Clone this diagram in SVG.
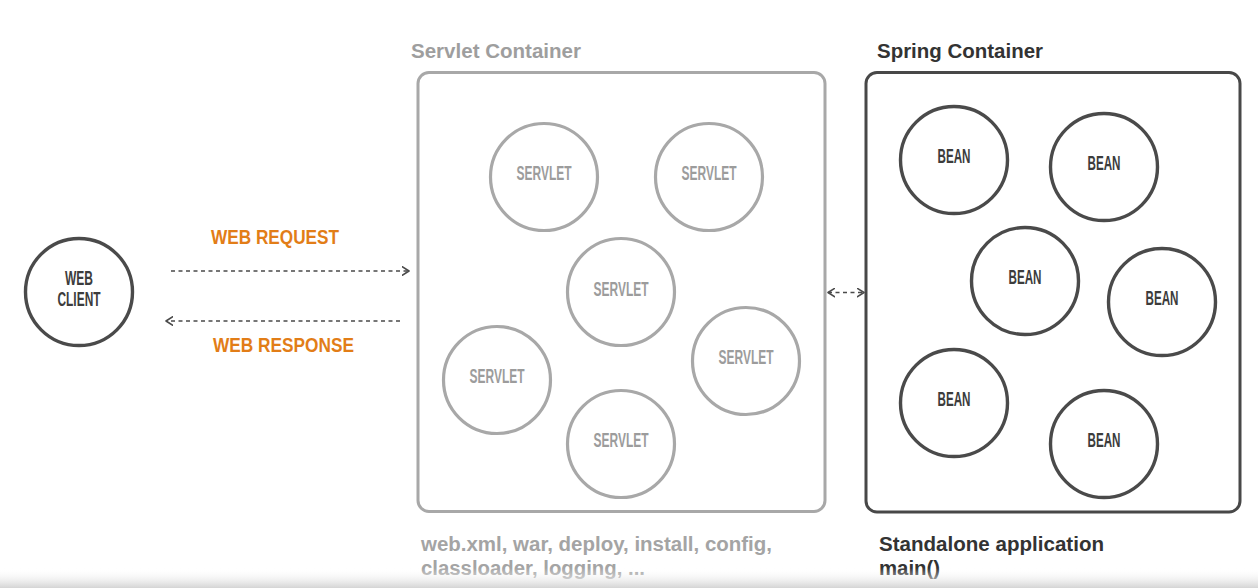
<svg xmlns="http://www.w3.org/2000/svg" width="1258" height="588" viewBox="0 0 1258 588">
<style>
  .bg { fill: #ffffff; }
  .box-light { fill: none; stroke: #a8a8a8; stroke-width: 3; }
  .box-dark { fill: none; stroke: #484848; stroke-width: 3; }
  .c-light { fill: #ffffff; stroke: #a8a8a8; stroke-width: 3.2; }
  .c-dark { fill: #ffffff; stroke: #4a4a4a; stroke-width: 3.4; }
  .t-light { font-family: "Liberation Sans", Arial, sans-serif; font-weight: bold; font-size: 21px; fill: #9c9c9c; text-anchor: middle; }
  .t-dark { font-family: "Liberation Sans", Arial, sans-serif; font-weight: bold; font-size: 21px; fill: #3c3c3c; text-anchor: middle; }
  .t-orange { font-family: "Liberation Sans", Arial, sans-serif; font-weight: bold; font-size: 20.5px; fill: #e27d17; }
  .title-light { font-family: "Liberation Sans", Arial, sans-serif; font-weight: bold; font-size: 20.5px; fill: #9e9e9e; }
  .title-dark { font-family: "Liberation Sans", Arial, sans-serif; font-weight: bold; font-size: 20.5px; fill: #333333; }
  .note-light { font-family: "Liberation Sans", Arial, sans-serif; font-weight: bold; font-size: 20px; fill: #a4a4a4; }
  .note-dark { font-family: "Liberation Sans", Arial, sans-serif; font-weight: bold; font-size: 20px; fill: #333333; }
  .conn { fill: none; stroke: #4a4a4a; stroke-width: 1.6; stroke-dasharray: 4 3.5; }
</style>
<defs>
  <marker id="chev" viewBox="0 0 8 10" refX="7.4" refY="5" markerWidth="8" markerHeight="10" markerUnits="userSpaceOnUse" orient="auto-start-reverse">
    <path d="M0.6,0.8 L7.4,5 L0.6,9.2" fill="none" stroke="#4a4a4a" stroke-width="1.6" stroke-linecap="round" stroke-linejoin="round"/>
  </marker>
  <linearGradient id="shade" x1="0" y1="0" x2="0" y2="1">
    <stop offset="0" stop-color="#ffffff" stop-opacity="0"/>
    <stop offset="1" stop-color="#d4d4d4"/>
  </linearGradient>
</defs>
<rect class="bg" x="0" y="0" width="1258" height="588"/>

<g id="web-client">
  <circle class="c-dark" cx="79" cy="292" r="53.5"/>
  <text class="t-dark" x="79" y="285" textLength="28" lengthAdjust="spacingAndGlyphs">WEB</text>
  <text class="t-dark" x="79" y="306" textLength="43" lengthAdjust="spacingAndGlyphs">CLIENT</text>
</g>

<g id="servlet-container">
  <text class="title-light" x="411" y="58" textLength="170" lengthAdjust="spacingAndGlyphs">Servlet Container</text>
  <rect class="box-light" x="418" y="72.5" width="407" height="439" rx="11"/>
  <text class="note-light" x="421" y="551" textLength="351" lengthAdjust="spacingAndGlyphs">web.xml, war, deploy, install, config,</text>
  <text class="note-light" x="421" y="575" textLength="224" lengthAdjust="spacingAndGlyphs">classloader, logging, ...</text>
</g>

<g id="servlet-1">
  <circle class="c-light" cx="544" cy="177" r="53.5"/>
  <text class="t-light" x="544" y="180" textLength="55" lengthAdjust="spacingAndGlyphs">SERVLET</text>
</g>
<g id="servlet-2">
  <circle class="c-light" cx="709" cy="177" r="53.5"/>
  <text class="t-light" x="709" y="180" textLength="55" lengthAdjust="spacingAndGlyphs">SERVLET</text>
</g>
<g id="servlet-3">
  <circle class="c-light" cx="621" cy="292" r="53.5"/>
  <text class="t-light" x="621" y="295.5" textLength="55" lengthAdjust="spacingAndGlyphs">SERVLET</text>
</g>
<g id="servlet-4">
  <circle class="c-light" cx="746" cy="361" r="53.5"/>
  <text class="t-light" x="746" y="364" textLength="55" lengthAdjust="spacingAndGlyphs">SERVLET</text>
</g>
<g id="servlet-5">
  <circle class="c-light" cx="497" cy="380" r="53.5"/>
  <text class="t-light" x="497" y="382.5" textLength="55" lengthAdjust="spacingAndGlyphs">SERVLET</text>
</g>
<g id="servlet-6">
  <circle class="c-light" cx="621" cy="444" r="53.5"/>
  <text class="t-light" x="621" y="447" textLength="55" lengthAdjust="spacingAndGlyphs">SERVLET</text>
</g>

<g id="spring-container">
  <text class="title-dark" x="877" y="58" textLength="166" lengthAdjust="spacingAndGlyphs">Spring Container</text>
  <rect class="box-dark" x="866" y="72.5" width="374" height="439.5" rx="11"/>
  <text class="note-dark" x="879" y="551" textLength="225" lengthAdjust="spacingAndGlyphs">Standalone application</text>
  <text class="note-dark" x="879" y="575" textLength="61" lengthAdjust="spacingAndGlyphs">main()</text>
</g>

<g id="bean-1">
  <circle class="c-dark" cx="954" cy="160" r="53.5"/>
  <text class="t-dark" x="954" y="163" textLength="33" lengthAdjust="spacingAndGlyphs">BEAN</text>
</g>
<g id="bean-2">
  <circle class="c-dark" cx="1104" cy="167" r="53.5"/>
  <text class="t-dark" x="1104" y="170" textLength="33" lengthAdjust="spacingAndGlyphs">BEAN</text>
</g>
<g id="bean-3">
  <circle class="c-dark" cx="1025" cy="281" r="53.5"/>
  <text class="t-dark" x="1025" y="284" textLength="33" lengthAdjust="spacingAndGlyphs">BEAN</text>
</g>
<g id="bean-4">
  <circle class="c-dark" cx="1162" cy="302" r="53.5"/>
  <text class="t-dark" x="1162" y="305" textLength="33" lengthAdjust="spacingAndGlyphs">BEAN</text>
</g>
<g id="bean-5">
  <circle class="c-dark" cx="954" cy="403" r="53.5"/>
  <text class="t-dark" x="954" y="406" textLength="33" lengthAdjust="spacingAndGlyphs">BEAN</text>
</g>
<g id="bean-6">
  <circle class="c-dark" cx="1104" cy="444" r="53.5"/>
  <text class="t-dark" x="1104" y="447" textLength="33" lengthAdjust="spacingAndGlyphs">BEAN</text>
</g>

<g id="connectors">
  <line class="conn" x1="171" y1="271" x2="409" y2="271" marker-end="url(#chev)"/>
  <text class="t-orange" x="211" y="244" textLength="128" lengthAdjust="spacingAndGlyphs">WEB REQUEST</text>
  <line class="conn" x1="400" y1="321" x2="166" y2="321" marker-end="url(#chev)"/>
  <text class="t-orange" x="213" y="352" textLength="141" lengthAdjust="spacingAndGlyphs">WEB RESPONSE</text>
  <line class="conn" x1="828" y1="292.5" x2="864" y2="292.5" stroke-dasharray="3.5 3.5" marker-start="url(#chev)" marker-end="url(#chev)"/>
</g>

<rect x="0" y="568" width="1258" height="20" fill="url(#shade)"/>
</svg>
